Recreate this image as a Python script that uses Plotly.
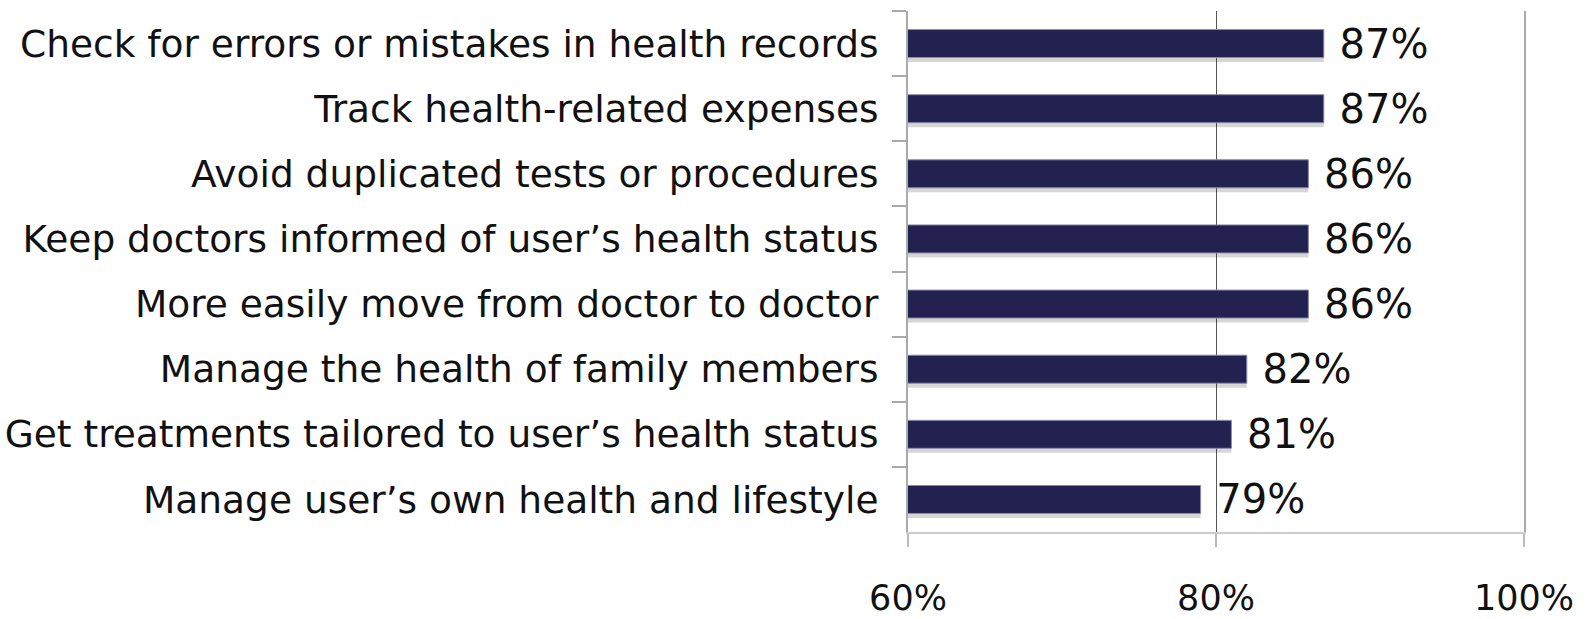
import plotly.graph_objects as go

categories = [
    "Check for errors or mistakes in health records",
    "Track health-related expenses",
    "Avoid duplicated tests or procedures",
    "Keep doctors informed of user’s health status",
    "More easily move from doctor to doctor",
    "Manage the health of family members",
    "Get treatments tailored to user’s health status",
    "Manage user’s own health and lifestyle",
]
values = [87, 87, 86, 86, 86, 82, 81, 79]
tick_vals = [60, 80, 100]
tick_text = ["60%", "80%", "100%"]
labels = [f" {v}%" for v in values]

FONT = "DejaVu Sans"
FS = 37.5
BAR_W = 0.43

fig = go.Figure()
# soft drop shadow under each bar
fig.add_trace(go.Bar(
    y=categories, x=values, orientation="h",
    marker=dict(color="rgba(0,0,0,0.16)", line=dict(width=0)),
    width=BAR_W, offset=-BAR_W / 2 + 0.07,
    hoverinfo="skip", showlegend=False,
))
fig.add_trace(go.Bar(
    y=categories, x=values, orientation="h",
    marker=dict(color="#23214F", line=dict(color="#8c8ca8", width=1)),
    width=BAR_W, offset=-BAR_W / 2,
    text=labels, textposition="outside", constraintext="none",
    textfont=dict(family=FONT, size=40, color="#111111"),
    cliponaxis=False,
    showlegend=False,
))

fig.update_layout(
    width=1594, height=619,
    margin=dict(l=908, r=70, t=11, b=87, autoexpand=False),
    paper_bgcolor="white", plot_bgcolor="white",
    font=dict(family=FONT, size=FS, color="#111111"),
    barmode="overlay",
    uniformtext=dict(mode=False),
)
fig.update_xaxes(
    range=[60, 100], tickvals=tick_vals, ticktext=tick_text,
    showgrid=True, gridcolor="#555555", gridwidth=1,
    showline=True, linecolor="#cccccc", linewidth=2,
    ticks="outside", ticklen=13, tickcolor="#bbbbbb", tickwidth=2,
    ticklabelstandoff=21, zeroline=False, automargin=False,
    tickfont=dict(family=FONT, size=35, color="#111111"),
)
fig.update_yaxes(
    autorange="reversed",
    showline=True, linecolor="#aaaaaa", linewidth=2, mirror=True,
    ticks="outside", ticklen=14, tickcolor="#aaaaaa", tickwidth=2,
    tickson="boundaries", showgrid=False, automargin=False,
    ticklabelstandoff=20,
    tickfont=dict(family=FONT, size=FS, color="#111111"),
)

fig.write_html(
    "out.html",
    config={"displayModeBar": False},
    post_script="document.body.style.margin='0';document.body.style.overflow='hidden';",
)
